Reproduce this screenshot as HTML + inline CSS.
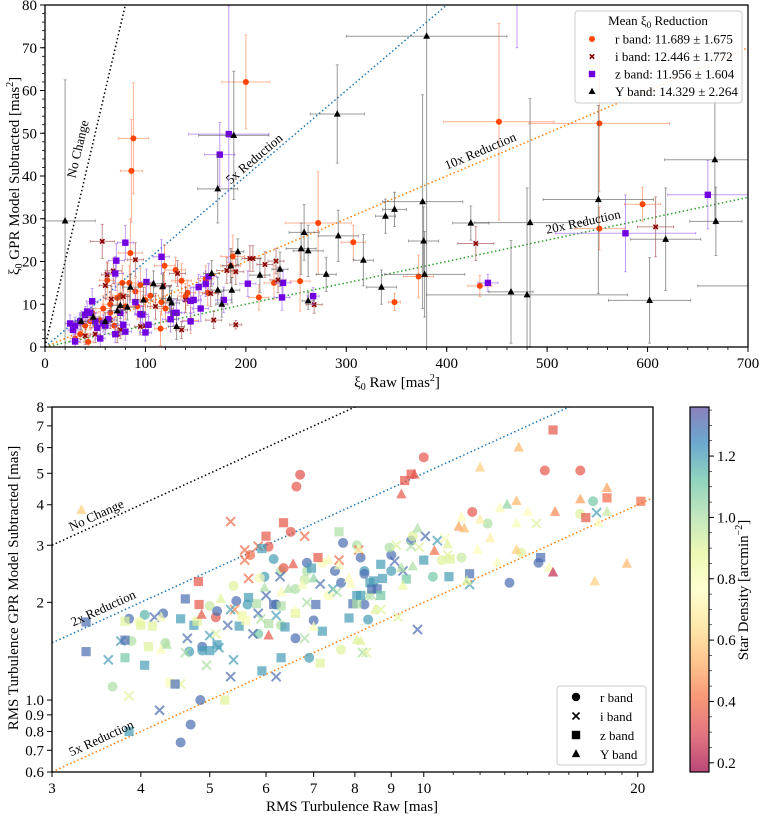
<!DOCTYPE html>
<html><head><meta charset="utf-8">
<style>
html,body{margin:0;padding:0;background:#fff;}
svg{display:block;font-family:"Liberation Serif",serif;}
</style></head>
<body>
<svg id="fig" width="760" height="818" viewBox="0 0 760 818" xmlns="http://www.w3.org/2000/svg">
<defs>
<linearGradient id="spec" x1="0" y1="1" x2="0" y2="0">
<stop offset="0" stop-color="#9e0142"/><stop offset="0.1" stop-color="#d53e4f"/><stop offset="0.2" stop-color="#f46d43"/><stop offset="0.3" stop-color="#fdae61"/><stop offset="0.4" stop-color="#fee08b"/><stop offset="0.5" stop-color="#ffffbf"/><stop offset="0.6" stop-color="#e6f598"/><stop offset="0.7" stop-color="#abdda4"/><stop offset="0.8" stop-color="#66c2a5"/><stop offset="0.9" stop-color="#3288bd"/><stop offset="1" stop-color="#5e4fa2"/>
</linearGradient>
<clipPath id="clipTop"><rect x="45" y="5" width="703" height="342"/></clipPath>
<clipPath id="clipBot"><rect x="52" y="407" width="601" height="365"/></clipPath>
</defs>
</svg>
<script>
// ---------- TOP PANEL DATA ----------
const rX=[88,86,200,272,307,254,228,213,185,187,160,162,140,142,136,130,119,116,115,100,95,85,84,75,72,77,92,90,65,58,62,47,45,40,35,30,43,52,69,65,55,145,120,105,80,452,552,552,595,372,348,433];
const rY=[48.8,41.2,62,29,24.5,15.4,15,11.6,19,21.2,16,12.7,11.9,12.7,15.5,18,19,10.5,4.3,11,14.5,22,15,12,11.5,15,9.5,13,10,9,15.6,8,6,5,3,2,1.2,4.5,5,8,6.3,6.2,9,12,9.5,52.7,52.3,27.7,33.4,16.5,10.5,14.3];
const rXe=[15,11,24,33,12,10,10,10,10,12,8,8,8,8,10,10,10,8,6,8,10,12,8,8,8,8,8,8,8,8,8,6,6,5,5,5,5,6,6,6,6,8,8,8,8,55,70,25,18,15,6,12];
const rYe=[13,12,11,12,4,7,4,3,4,5,3,3,3,3,4,3,5,3,4,3,4,8,4,3,3,4,3,3,3,3,4,2,2,2,2,2,2,2,2,2,2,3,3,3,3,23,16,5,4,5,2,2.5];
const iX=[57,62,60,68,66,78,90,118,132,140,136,168,190,181,190,204,207,219,230,232,268,165,95,110,40,50,65,72,100,75,429,608];
const iY=[24.7,16.9,14.4,17.8,11.2,11.8,20.4,14.4,17.2,11,4,6.3,5.2,17.9,17.6,20.7,20.7,19.3,20.1,15.7,9.9,12.5,4.8,9.5,2.6,3,6.3,3,5,4,24.2,28.1];
const iXe=[12,6,6,8,6,6,8,8,8,8,6,8,6,10,8,8,8,8,8,8,8,8,6,8,5,5,6,5,6,5,18,18];
const iYe=[4,3,3,3,3,3,4,3,3,3,2,2,1,3,3,3,3,3,3,3,2,3,2,3,2,2,2,2,2,2,4,7];
const zX=[183,174,80,71,70,116,101,153,160,163,145,148,155,125,128,131,145,178,202,237,236,267,100,70,63,58,50,45,40,35,30,28,25,47,42,52,60,75,78,95,97,90,103,30,55,80,441,578,660,470];
const zY=[49.8,45,24.4,20.2,17.2,21.1,15.2,14,14.8,16.5,10.8,11,9,6.5,8,8,6,11,14.8,15,11.6,11.9,3.4,3,6.5,5.5,6,8,7.5,6,5,4,5.5,10.7,8.3,4.5,5,8,5.2,7.7,7.6,10.5,5.2,1.3,2,3.6,15,26.6,35.6,90];
const zXe=[40,15,8,8,8,8,8,8,8,8,8,8,8,8,8,8,8,8,8,8,8,6,6,6,6,6,6,6,6,6,5,5,5,6,6,6,6,6,6,6,6,6,6,5,5,6,10,70,40,10];
const zYe=[30,7.5,4,4,4,4,3,3,3,3,3,3,3,3,3,3,2,3,3,3,3,2,2,2,2,2,2,2,2,2,2,2,2,3,2,2,2,2,2,2,2,3,2,2,2,2,2,9,8,20];
const yX=[20,188,172,291,258,255,262,292,280,317,335,262,192,186,185,172,176,166,214,234,108,117,124,126,131,98,85,82,75,72,60,380,376,348,339,377,378,424,483,464,480,551,602,618,667,668,720,36,48];
const yY=[29.5,49.5,37,54.5,26.8,23,22.5,26,17,20.3,14,10.8,22.3,13.3,19,13.3,10,17.2,16.8,18.2,14.8,14.1,11.3,10.3,4.8,11,14,9.3,9.7,8.5,6,72.7,34,32.2,30.6,24.8,17,29,29.1,12.9,12.2,34.5,10.9,25.2,43.8,29.4,14.3,6,7];
const yXe=[30,35,20,27,15,15,15,20,10,10,15,6,6,8,8,6,6,8,10,8,10,8,8,8,8,8,8,8,8,8,6,80,40,12,10,15,40,18,55,22,100,55,41,35,50,26,70,6,6];
const yYe=[33,15,8,11.5,6.5,6,6,6,4,6,4,2,3,3,4,3,3,3,4,4,3,3,3,3,3,3,3,3,3,3,2,75,25,4,4,8,10,4,29,12,25,22,10,12,15,8,5,2,2];
const topXTicks=[0,100,200,300,400,500,600,700];
const topYTicks=[0,10,20,30,40,50,60,70,80];
const reductions=[1,5,10,20];

// ---------- BOTTOM PANEL DATA ----------
const brX=[6.62,6.7,6.5,6.05,5.7,5.1,6.15,5.97,5.88,5.4,5.0,5.12,5.45,5.65,4.3,4.05,3.85,3.98,3.88,4.33,4.68,4.88,4.88,3.65,4.85,4.7,4.55,5.85,6.6,6.6,6.8,6.85,6.85,7.0,6.9,7.2,7.35,7.5,7.65,7.7,7.65,8.05,8.15,8.25,8.25,8.35,8.25,6.3,6.35,6.2,6.3,10.0,14.8,16.6,11.7,17.3,16.6,12.3,11.3,10.6,13.7,14.5,13.2,10.3,9.6,9.0,9.0,9.65,8.95];
const brY=[4.55,4.95,3.3,2.97,2.8,1.8,2.72,2.4,2.38,2.25,1.95,1.88,2.02,1.97,1.85,1.83,1.78,1.74,1.52,1.5,1.41,1.46,1.42,1.1,1.0,0.84,0.74,1.6,1.55,2.2,2.35,2.5,2.65,1.76,1.35,2.65,2.1,2.5,2.3,3.05,1.43,3.0,2.75,1.97,2.5,1.77,2.45,2.5,2.55,1.97,1.7,5.6,5.1,5.1,3.8,4.1,3.75,3.5,2.75,2.7,2.85,2.65,2.3,2.4,3.1,2.5,2.8,3.2,2.95];
const brD=[0.35,0.33,0.35,0.35,0.4,0.35,1.2,1.2,0.8,0.9,0.95,1.3,1.3,1.2,1.3,1.15,1.3,0.8,1.0,1.0,1.2,1.3,1.2,1.0,1.3,1.3,1.3,1.1,1.3,1.0,0.95,1.0,1.3,1.3,1.2,0.8,0.8,1.3,1.3,1.3,0.9,1.0,1.3,1.3,1.2,1.2,1.3,1.0,0.35,1.3,1.0,0.35,0.35,0.35,0.35,1.1,0.9,1.0,0.95,0.9,0.9,1.3,1.3,1.1,1.3,1.2,1.3,0.9,1.0];
const biX=[5.35,5.6,5.6,5.85,5.67,6.8,7.6,8.1,5.42,6.28,7.15,6.0,6.2,5.35,5.3,5.75,5.85,5.0,5.15,4.65,4.18,3.6,3.75,4.62,4.95,5.4,5.35,6.2,4.25,3.85,4.55,5.1,7.45,7.55,6.85,6.8,8.2,8.35,5.9,10.05,10.45,10.7,10.8,9.15,9.6,9.85,9.1,9.35,14.4,17.5,11.6,8.7,9.2,9.8,8.3,8.45];
const biY=[3.55,2.9,2.7,2.98,2.37,3.2,2.7,2.9,1.9,2.4,2.28,2.1,1.82,1.9,1.7,1.6,1.85,1.58,1.45,1.55,1.8,1.33,1.52,1.4,1.28,1.33,1.18,1.18,0.93,1.03,1.12,1.6,2.2,2.15,2.0,1.55,1.4,2.1,1.78,3.2,3.1,3.15,2.8,3.0,2.98,2.96,2.68,2.5,3.5,3.78,2.27,1.9,1.8,1.65,1.4,2.1];
const biD=[0.4,0.4,0.4,0.4,0.4,0.4,0.4,0.4,0.45,1.3,1.3,1.3,1.2,1.2,1.3,1.3,1.3,1.2,1.2,1.3,1.3,1.2,1.2,1.0,1.0,1.2,1.3,1.3,1.3,0.9,0.9,0.9,1.2,1.0,1.0,1.0,1.0,1.0,1.0,1.3,1.2,0.8,0.9,0.9,1.0,0.9,1.3,1.3,0.9,1.2,1.2,0.9,0.9,1.3,0.9,1.0];
const bzX=[6.35,6.0,7.1,4.82,4.83,5.92,7.6,6.95,4.62,4.55,4.75,3.35,3.35,3.8,4.05,3.8,3.8,4.0,4.15,4.1,4.4,4.47,3.85,5.25,5.0,5.12,5.5,5.55,5.62,5.82,5.67,5.92,6.05,6.15,6.3,6.38,6.6,7.05,7.2,7.15,6.3,7.85,7.95,8.05,8.4,8.45,8.05,4.8,15.2,9.4,9.6,18.1,20.2,16.9,10.0,8.7,10.9,8.5,8.75,9.45,10.85,11.6,8.6,8.7,8.15,14.6];
const bzY=[3.52,3.2,2.75,2.32,1.97,2.93,3.3,2.55,2.05,1.78,1.7,1.74,1.41,1.35,1.28,1.53,1.75,1.7,1.69,1.46,1.13,1.12,0.8,1.0,1.42,1.48,1.69,1.82,1.76,1.98,2.07,1.23,1.72,1.97,1.95,1.68,1.85,1.97,1.63,1.3,1.35,1.79,1.98,2.1,2.3,2.2,1.98,1.75,6.8,4.75,4.97,4.2,4.1,3.65,2.7,2.62,2.72,2.33,2.37,2.36,2.4,2.45,2.2,2.1,2.1,2.75];
const bzD=[0.35,0.35,0.35,0.35,0.35,1.2,1.0,1.2,1.3,1.2,1.2,1.3,1.3,1.1,1.2,1.3,0.9,0.9,0.9,0.9,0.8,1.3,1.2,0.9,1.2,1.2,1.2,0.85,0.8,1.0,1.2,1.2,1.0,1.3,1.0,1.2,0.9,1.3,1.2,0.9,1.2,1.2,1.3,1.2,1.2,1.3,1.0,0.9,0.35,0.35,0.35,0.4,0.4,0.35,1.2,1.2,0.9,1.2,1.2,1.1,1.2,1.3,1.3,1.1,1.2,1.3];
const byX=[3.3,4.87,6.05,6.55,4.27,4.27,4.35,5.18,5.97,6.3,6.45,6.6,6.75,7.0,7.35,7.6,7.0,7.85,7.9,8.05,8.1,8.55,13.6,12.0,9.7,9.3,18.1,16.6,13.5,15.3,13.1,12.8,14.0,18.1,11.3,12.0,11.2,11.4,13.5,17.6,9.8,10.8,12.4,10.35,11.9,13.5,12.7,15.0,15.2,19.3,17.4,9.65,9.3,9.35,8.15,11.5];
const byY=[3.85,1.83,1.58,2.62,1.8,1.43,1.48,2.05,2.22,2.15,2.2,1.88,2.26,2.37,2.7,2.6,1.68,2.37,2.28,1.53,2.92,1.9,6.0,5.2,4.95,4.3,4.5,4.15,4.1,3.8,4.0,3.9,3.8,3.8,3.65,3.6,3.42,3.38,3.5,3.52,3.38,3.02,3.15,2.88,2.9,2.9,2.65,2.55,2.47,2.63,2.32,2.58,2.55,2.25,1.52,2.33];
const byD=[0.6,0.35,0.35,0.35,0.8,0.8,1.0,0.9,1.0,0.8,1.0,0.8,0.8,1.05,0.8,0.8,0.8,0.75,0.75,0.9,0.8,0.9,0.55,0.6,0.35,0.35,0.5,0.5,0.55,0.45,1.05,0.8,0.75,0.95,0.75,0.7,0.5,0.55,0.8,0.75,1.0,0.9,0.7,0.4,0.75,0.6,0.75,0.8,0.25,0.55,0.6,1.0,1.0,0.85,0.9,0.9];
const botXTicks=[3,4,5,6,7,8,9,10,20];
const botYTicks=[0.6,0.7,0.8,0.9,1.0,2,3,4,5,6,7,8];
const botYLabels=["0.6","0.7","0.8","0.9","1.0","2","3","4","5","6","7","8"];
const cbTicks=[0.2,0.4,0.6,0.8,1.0,1.2];
const cbLabels=["0.2","0.4","0.6","0.8","1.0","1.2"];
const botReductions=[1,2,5];

// ---------- helpers ----------
const NS="http://www.w3.org/2000/svg";
const svg=document.getElementById('fig');
function mk(tag,attrs,parent){const e=document.createElementNS(NS,tag);for(const k in attrs)e.setAttribute(k,attrs[k]);(parent||svg).appendChild(e);return e;}
function txt(s,attrs,parent){const e=mk('text',attrs,parent);e.textContent=s;return e;}

// Top axes
const sx=v=>45+v*703/700, sy=v=>347-v*342/80;
// Bottom axes
const bx=v=>52+711*Math.log10(v/3), by=v=>772-324.4*Math.log10(v/0.6);
const VMIN=0.17,VMAX=1.36;
const cbY=v=>772-(v-VMIN)/(VMAX-VMIN)*365;

// Spectral colormap
const SP=["#9e0142","#d53e4f","#f46d43","#fdae61","#fee08b","#ffffbf","#e6f598","#abdda4","#66c2a5","#3288bd","#5e4fa2"];
function hx(c){return [parseInt(c.substr(1,2),16),parseInt(c.substr(3,2),16),parseInt(c.substr(5,2),16)];}
function cmap(d){let t=(d-VMIN)/(VMAX-VMIN);t=Math.max(0,Math.min(1,t));const f=t*10,i=Math.min(9,Math.floor(f)),u=f-i;const a=hx(SP[i]),b=hx(SP[i+1]);return 'rgb('+a.map((v,k)=>Math.round(v+(b[k]-v)*u)).join(',')+')';}

// ================= TOP PANEL =================
const gTop=mk('g',{});


const clipT=mk('g',{'clip-path':'url(#clipTop)'},gTop);

// reference lines
const refCols=['#000','#1f77b4','#ff7f0e','#2ca02c'];
const refNames=['no-change-line','5x-reduction-line','10x-reduction-line','20x-reduction-line'];
reductions.forEach((r,k)=>{
  const l=mk('line',{x1:sx(0),y1:sy(0),x2:sx(700),y2:sy(700/r),stroke:refCols[k],'stroke-width':1.5,'stroke-dasharray':'1.5,2.5'},clipT);
  
  
});

function errbar(g,x,y,xe,ye,col,op){
  mk('line',{x1:sx(x-xe),y1:sy(y),x2:sx(x+xe),y2:sy(y),stroke:col,'stroke-width':1,opacity:op},g);
  mk('line',{x1:sx(x),y1:sy(y-ye),x2:sx(x),y2:sy(y+ye),stroke:col,'stroke-width':1,opacity:op},g);
  mk('line',{x1:sx(x-xe),y1:sy(y)-1.5,x2:sx(x-xe),y2:sy(y)+1.5,stroke:col,'stroke-width':0.8,opacity:op},g);
  mk('line',{x1:sx(x+xe),y1:sy(y)-1.5,x2:sx(x+xe),y2:sy(y)+1.5,stroke:col,'stroke-width':0.8,opacity:op},g);
  mk('line',{x1:sx(x)-1.5,y1:sy(y-ye),x2:sx(x)+1.5,y2:sy(y-ye),stroke:col,'stroke-width':0.8,opacity:op},g);
  mk('line',{x1:sx(x)-1.5,y1:sy(y+ye),x2:sx(x)+1.5,y2:sy(y+ye),stroke:col,'stroke-width':0.8,opacity:op},g);
}
function marker(g,shape,cx,cy,col,s,op){
  let e;
  if(shape==='o') e=mk('circle',{cx:cx,cy:cy,r:s,fill:col,opacity:op},g);
  else if(shape==='s') e=mk('rect',{x:cx-s,y:cy-s,width:2*s,height:2*s,fill:col,opacity:op},g);
  else if(shape==='^') e=mk('polygon',{points:(cx)+','+(cy-s*1.15)+' '+(cx-s)+','+(cy+s*0.75)+' '+(cx+s)+','+(cy+s*0.75),fill:col,opacity:op},g);
  else {e=mk('path',{d:'M'+(cx-s)+','+(cy-s)+'L'+(cx+s)+','+(cy+s)+'M'+(cx-s)+','+(cy+s)+'L'+(cx+s)+','+(cy-s),stroke:col,'stroke-width':s>4?2:1.6,fill:'none',opacity:op},g);}
  return e;
}
const bandsTop=[
  {n:'r',X:rX,Y:rY,XE:rXe,YE:rYe,c:'#ff4500',ec:'#ff7f50',sh:'o',s:3},
  {n:'i',X:iX,Y:iY,XE:iXe,YE:iYe,c:'#8b0000',ec:'#a04040',sh:'x',s:2.2},
  {n:'z',X:zX,Y:zY,XE:zXe,YE:zYe,c:'#7000e0',ec:'#9a5af0',sh:'s',s:3.2},
  {n:'Y',X:yX,Y:yY,XE:yXe,YE:yYe,c:'#000000',ec:'#555',sh:'^',s:3.4}
];
bandsTop.forEach(b=>{
  const g=mk('g',{},clipT);
  
  
  b.X.forEach((x,i)=>{errbar(g,x,b.Y[i],b.XE[i],b.YE[i],b.ec,0.6);});
  b.X.forEach((x,i)=>{
    const m=marker(g,b.sh,sx(x),sy(b.Y[i]),b.c,b.s,1);
    
    
  });
});
// line labels
const tl=[['No Change',82,150,-76.8],['5x Reduction',257,162,-40.4],['10x Reduction',482,155,-23],['20x Reduction',584,226,-12]];
tl.forEach(t=>{const e=txt(t[0],{x:t[1],y:t[2],'font-size':13,'text-anchor':'middle',transform:'rotate('+t[3]+' '+t[1]+' '+t[2]+')'},gTop);
  
  });

// frame + ticks
mk('rect',{x:45,y:5,width:703,height:342,fill:'none',stroke:'#000','stroke-width':1.3},gTop);
topXTicks.forEach(v=>{mk('line',{x1:sx(v),y1:347,x2:sx(v),y2:352,stroke:'#000'},gTop);
  const e=txt(String(v),{x:sx(v),y:368,'font-size':15,'text-anchor':'middle'},gTop);
  
  });
for(let v=0;v<=700;v+=20){mk('line',{x1:sx(v),y1:347,x2:sx(v),y2:350,stroke:'#000','stroke-width':0.8},gTop);}
topYTicks.forEach(v=>{mk('line',{x1:40,y1:sy(v),x2:45,y2:sy(v),stroke:'#000'},gTop);
  const e=txt(String(v),{x:37,y:sy(v)+5,'font-size':15,'text-anchor':'end'},gTop);
  
  });
for(let v=0;v<=80;v+=2){mk('line',{x1:42,y1:sy(v),x2:45,y2:sy(v),stroke:'#000','stroke-width':0.8},gTop);}
let e1=txt('',{x:397,y:387,'font-size':15,'text-anchor':'middle'},gTop);
e1.innerHTML='ξ<tspan font-size="10" dy="3">0</tspan><tspan dy="-3"> Raw [mas</tspan><tspan font-size="10" dy="-6">2</tspan><tspan dy="6">]</tspan>';


let e2=txt('',{x:0,y:0,'font-size':15,'text-anchor':'middle',transform:'translate(19,176) rotate(-90)'},gTop);
e2.innerHTML='ξ<tspan font-size="10" dy="3">0</tspan><tspan dy="-3"> GPR Model Subtracted [mas</tspan><tspan font-size="10" dy="-6">2</tspan><tspan dy="6">]</tspan>';



// legend
const lg=mk('g',{},gTop);


mk('rect',{x:575,y:11,width:167,height:92,rx:3,fill:'#fff','fill-opacity':0.85,stroke:'#ccc'},lg);
let lt=txt('',{x:658,y:25,'font-size':13,'text-anchor':'middle'},lg);
lt.innerHTML='Mean ξ<tspan font-size="9" dy="3">0</tspan><tspan dy="-3"> Reduction</tspan>';
const legTxt=['r band:  11.689 ± 1.675','i band:  12.446 ± 1.772','z band:  11.956 ± 1.604','Y band:  14.329 ± 2.264'];
bandsTop.forEach((b,k)=>{const yy=39+k*17.5;
  const m=marker(lg,b.sh,592,yy,b.c,b.s,1);
  
  
  const t=txt(legTxt[k],{x:615,y:yy+4.5,'font-size':13,'xml:space':'preserve'},lg);
  
  });

// ================= BOTTOM PANEL =================
const gBot=mk('g',{});


const clipB=mk('g',{'clip-path':'url(#clipBot)'},gBot);
const bCols=['#000','#1f77b4','#ff7f0e'];
const bNames=['no-change-line','2x-reduction-line','5x-reduction-line'];
botReductions.forEach((r,k)=>{
  const l=mk('line',{x1:bx(3),y1:by(3/r),x2:bx(21),y2:by(21/r),stroke:bCols[k],'stroke-width':1.5,'stroke-dasharray':'1.5,2.5'},clipB);
  
  
});
const bandsBot=[
  {n:'r',X:brX,Y:brY,D:brD,sh:'o',s:5},
  {n:'i',X:biX,Y:biY,D:biD,sh:'x',s:4.5},
  {n:'z',X:bzX,Y:bzY,D:bzD,sh:'s',s:4.6},
  {n:'Y',X:byX,Y:byY,D:byD,sh:'^',s:5.2}
];
bandsBot.forEach(b=>{
  const g=mk('g',{},clipB);
  
  
  b.X.forEach((x,i)=>{
    const m=marker(g,b.sh,bx(x),by(b.Y[i]),cmap(b.D[i]),b.s,0.7);
    
    
  });
});
const bl=[['No Change',98,519],['2x Reduction',105,612],['5x Reduction',103,742]];
bl.forEach(t=>{const e=txt(t[0],{x:t[1],y:t[2],'font-size':13,'text-anchor':'middle',transform:'rotate(-24.5 '+t[1]+' '+t[2]+')'},gBot);
  
  });
mk('rect',{x:52,y:407,width:601,height:365,fill:'none',stroke:'#000','stroke-width':1.3},gBot);
botXTicks.forEach(v=>{mk('line',{x1:bx(v),y1:772,x2:bx(v),y2:777,stroke:'#000'},gBot);
  const e=txt(String(v),{x:bx(v),y:793,'font-size':15,'text-anchor':'middle'},gBot);
  
  });
[11,12,13,14,15,16,17,18,19].forEach(v=>mk('line',{x1:bx(v),y1:772,x2:bx(v),y2:775,stroke:'#000','stroke-width':0.8},gBot));
botYTicks.forEach((v,k)=>{mk('line',{x1:47,y1:by(v),x2:52,y2:by(v),stroke:'#000'},gBot);
  const e=txt(botYLabels[k],{x:44,y:by(v)+5,'font-size':15,'text-anchor':'end'},gBot);
  
  });
let e3=txt('RMS Turbulence Raw [mas]',{x:352,y:811,'font-size':15,'text-anchor':'middle'},gBot);


let e4=txt('RMS Turbulence GPR Model Subtracted [mas]',{x:0,y:0,'font-size':15,'text-anchor':'middle',transform:'translate(18,588) rotate(-90)'},gBot);



// bottom legend
const lg2=mk('g',{},gBot);


mk('rect',{x:557,y:686,width:89,height:79,rx:3,fill:'#fff','fill-opacity':0.85,stroke:'#ccc'},lg2);
const lt2=['r band','i band','z band','Y band'];
bandsBot.forEach((b,k)=>{const yy=697+k*19;
  const m=marker(lg2,b.sh,576,yy,'#000',b.sh==='x'?3.5:4.2,1);
  
  
  const t=txt(lt2[k],{x:600,y:yy+5,'font-size':13},lg2);
  
  });

// colorbar
const cb=mk('g',{});


mk('rect',{x:690,y:407,width:19,height:365,fill:'url(#spec)',opacity:0.72},cb);
mk('rect',{x:690,y:407,width:19,height:365,fill:'none',stroke:'#000','stroke-width':1.2},cb);
cbTicks.forEach((v,k)=>{mk('line',{x1:709,y1:cbY(v),x2:714,y2:cbY(v),stroke:'#000'},cb);
  const e=txt(cbLabels[k],{x:717,y:cbY(v)+5,'font-size':15},cb);
  
  });
for(let v=0.2;v<=1.36;v+=0.05){mk('line',{x1:709,y1:cbY(v),x2:712,y2:cbY(v),stroke:'#000','stroke-width':0.6},cb);}
let e5=txt('',{x:0,y:0,'font-size':15,'text-anchor':'middle',transform:'translate(748,590) rotate(-90)'},cb);
e5.innerHTML='Star Density [arcmin<tspan font-size="10" dy="-6">−2</tspan><tspan dy="6">]</tspan>';


</script>
</body></html>
